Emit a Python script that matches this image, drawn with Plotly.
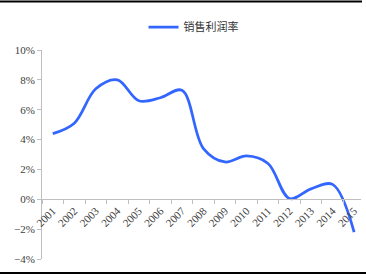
import plotly.graph_objects as go

years = ["2001", "2002", "2003", "2004", "2005", "2006", "2007", "2008",
         "2009", "2010", "2011", "2012", "2013", "2014", "2015"]
margin_rate = [0.044, 0.051, 0.074, 0.080, 0.066, 0.068, 0.073, 0.034,
               0.025, 0.029, 0.024, 0.0005, 0.007, 0.010, -0.022]
series_name = "销售利润率"

W, H = 366, 280
L, R, T, B = 42, 5, 50, 21
pw, ph = W - L - R, H - T - B

def px_x(p):
    return (p - L) / pw

def px_y(p):
    return (H - B - p) / ph

fig = go.Figure()
fig.add_trace(go.Scatter(
    x=years, y=margin_rate, mode="lines", name=series_name,
    line=dict(color="#3366FF", width=2.75, shape="spline", smoothing=1),
))

axis_font = dict(family="Liberation Serif", size=11, color="#404040")
ymin, ymax = -0.04, 0.10

fig.update_layout(
    width=W, height=H,
    margin=dict(l=L, r=R, t=T, b=B),
    paper_bgcolor="white", plot_bgcolor="white",
    showlegend=True,
    legend=dict(orientation="h", x=0.475, xanchor="center", y=px_y(27), yanchor="middle",
                font=dict(family="Noto Sans CJK SC", size=11, color="#333333"),
                bgcolor="rgba(0,0,0,0)"),
    xaxis=dict(type="category", range=[-0.5, 14.32], anchor="free",
               position=(0 - ymin) / (ymax - ymin),
               showline=True, linecolor="#BFBFBF", linewidth=1,
               ticks="outside", tickson="boundaries", ticklen=4, tickcolor="#BFBFBF",
               tickangle=-45, tickfont=axis_font, showgrid=False, zeroline=False),
    yaxis=dict(range=[ymin, ymax], dtick=0.02, tickformat=".0%",
               showline=True, linecolor="#BFBFBF", linewidth=1,
               ticks="outside", ticklen=4, tickcolor="#BFBFBF",
               tickfont=axis_font, showgrid=False, zeroline=False),
    shapes=[
        dict(type="line", xref="paper", yref="paper", x0=px_x(0), x1=px_x(362),
             y0=px_y(1.5), y1=px_y(1.5), line=dict(color="black", width=2)),
        dict(type="line", xref="paper", yref="paper", x0=px_x(0), x1=px_x(366),
             y0=px_y(273), y1=px_y(273), line=dict(color="black", width=2)),
    ],
)

fig.write_html("out.html")
